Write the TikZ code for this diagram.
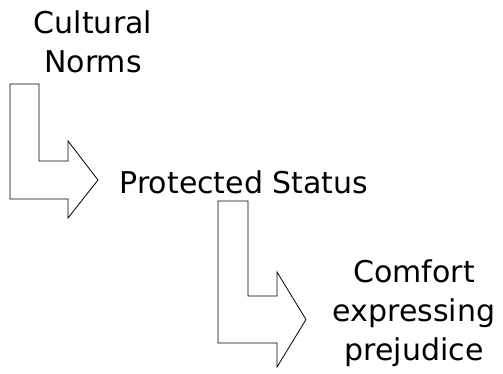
\documentclass[tikz,border=0pt]{standalone}
\usepackage{fontspec}
\setmainfont{DejaVu Sans}
\begin{document}
\begin{tikzpicture}[x=1pt,y=-1pt]
\tikzset{lbl/.style={font=\fontsize{30}{39}\selectfont, align=center, inner sep=0pt},
  bent/.style={draw=black, line width=0.8pt, line join=miter}}
\useasboundingbox (0,0) rectangle (503,373);
\node[lbl] (norms) at (93,42) {Cultural\\Norms};
\node[lbl] (status) at (244,182) {Protected Status};
\node[lbl] (comfort) at (414,313) {Comfort\\expressing\\prejudice};
% first bent arrow
\draw[bent] (10,84) -- (39,84) -- (39,161) -- (68,161) -- (68,141) -- (98,180)
    -- (68,218) -- (68,199) -- (10,199) -- cycle;
% second bent arrow
\draw[bent] (218,201) -- (248,201) -- (248,296) -- (277,296) -- (277,272) -- (306,319.5)
    -- (277,367) -- (277,343) -- (218,343) -- cycle;
\end{tikzpicture}
\end{document}
